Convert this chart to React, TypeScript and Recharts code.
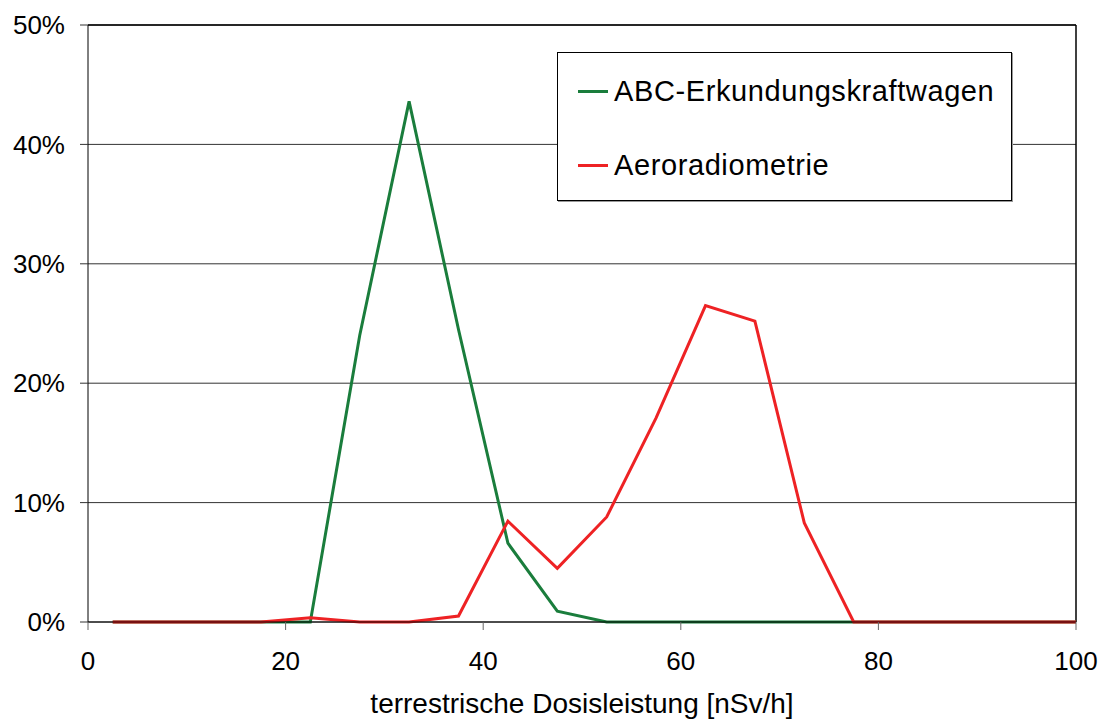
import React from 'react';
import { LineChart, Line, XAxis, YAxis, CartesianGrid, Legend, ReferenceLine } from 'recharts';

const doseRate = [2.5, 7.5, 12.5, 17.5, 22.5, 27.5, 32.5, 37.5, 42.5, 47.5, 52.5, 57.5, 62.5, 67.5, 72.5, 77.5, 82.5, 87.5, 92.5, 97.5, 100];
const abcValues = [0, 0, 0, 0, 0, 24, 43.6, 24.5, 6.6, 0.9, 0, 0, 0, 0, 0, 0, 0, 0, 0, 0, 0];
const aeroValues = [0, 0, 0, 0, 0.35, 0, 0, 0.5, 8.45, 4.5, 8.8, 17.1, 26.5, 25.2, 8.3, 0, 0, 0, 0, 0, 0];
const xTicks = [0, 20, 40, 60, 80, 100];
const yTicks = [0, 10, 20, 30, 40, 50];
const seriesNames = ['ABC-Erkundungskraftwagen', 'Aeroradiometrie'];
const seriesColors = ['#1a7d3c', '#ee2224'];

const data = doseRate.map((x, i) => ({ x, abc: abcValues[i], aero: aeroValues[i] }));

const FONT = '"Liberation Sans", Arial, sans-serif';

const LegendBox = () => (
  <div
    style={{
      width: 455,
      height: 149,
      boxSizing: 'border-box',
      border: '1px solid #000',
      boxShadow: '1px 1px 0 #999',
      background: '#fff',
      fontFamily: FONT,
      fontSize: 29,
      color: '#000',
      position: 'relative',
    }}
  >
    {seriesNames.map((name, i) => (
      <div key={name} style={{ position: 'absolute', left: 20, top: i === 0 ? 20 : 94, display: 'flex', alignItems: 'center', height: 36 }}>
        <div style={{ width: 30, height: 3, background: seriesColors[i], marginRight: 6 }} />
        <span style={{ whiteSpace: 'nowrap', letterSpacing: 0.6 }}>{name}</span>
      </div>
    ))}
  </div>
);

export default function App() {
  return (
    <div style={{ position: 'absolute', left: 0, top: 0, width: 1107, height: 724, background: '#fff' }}>
      <LineChart width={1107} height={724} data={data} margin={{ top: 25, right: 31, left: 0, bottom: 0 }}>
        <CartesianGrid vertical={false} stroke="#333" strokeWidth={1} />
        <XAxis
          dataKey="x"
          type="number"
          domain={[0, 100]}
          ticks={xTicks}
          height={102}
          tickSize={8}
          tickMargin={22}
          stroke="#000"
          tickLine={{ stroke: '#666' }}
          tick={{ fill: '#000', fontSize: 26, fontFamily: FONT }}
          label={{ value: 'terrestrische Dosisleistung [nSv/h]', position: 'insideBottom', offset: 11, fill: '#000', fontSize: 28, fontFamily: FONT }}
        />
        <YAxis
          type="number"
          domain={[0, 50]}
          ticks={yTicks}
          width={88}
          tickSize={8}
          tickMargin={15}
          stroke="#000"
          tickLine={{ stroke: '#333' }}
          tickFormatter={(v: number) => `${v}%`}
          tick={{ fill: '#000', fontSize: 26, fontFamily: FONT }}
        />
        <ReferenceLine y={50} stroke="#000" strokeWidth={1.5} />
        <ReferenceLine x={100} stroke="#000" strokeWidth={1.5} />
        <Legend
          layout="vertical"
          align="center"
          verticalAlign="middle"
          content={() => <LegendBox />}
          wrapperStyle={{ position: 'absolute', left: 557, top: 52, width: 455, height: 149 }}
        />
        <Line
          type="linear"
          dataKey="abc"
          name={seriesNames[0]}
          stroke={seriesColors[0]}
          strokeWidth={3}
          dot={false}
          activeDot={false}
          isAnimationActive={false}
        />
        <Line
          type="linear"
          dataKey="aero"
          name={seriesNames[1]}
          stroke={seriesColors[1]}
          strokeWidth={3}
          dot={false}
          activeDot={false}
          isAnimationActive={false}
        />
      </LineChart>
    </div>
  );
}
